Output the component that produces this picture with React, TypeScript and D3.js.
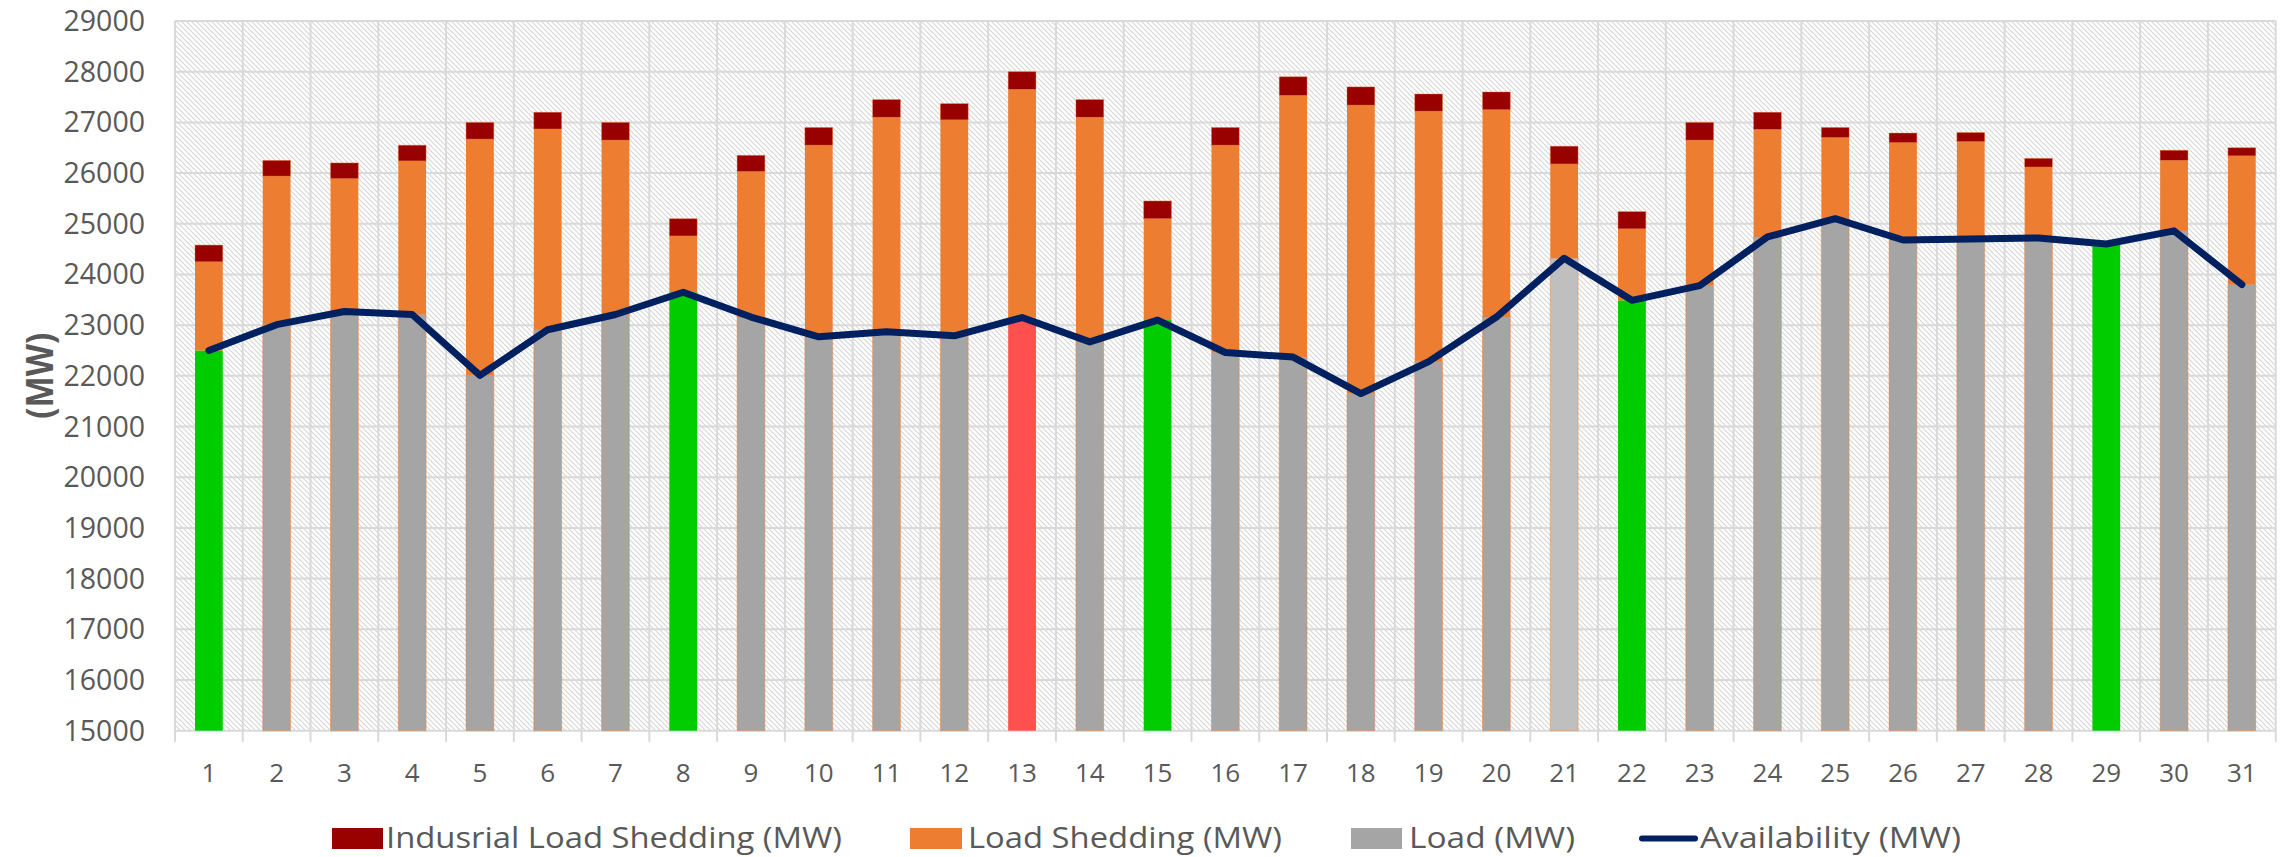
import React from 'react';
import * as d3 from 'd3';

const days = ['1','2','3','4','5','6','7','8','9','10','11','12','13','14','15','16','17','18','19','20','21','22','23','24','25','26','27','28','29','30','31'];

const loadMW = [22500, 23010, 23270, 23210, 22010, 22910, 23210, 23650, 23160, 22770, 22870, 22790, 23150, 22670, 23100, 22460, 22370, 21650, 22280, 23160, 24320, 23490, 23780, 24740, 25100, 24680, 24700, 24720, 24600, 24860, 23800];

const loadSheddingMW = [1750, 2930, 2620, 3030, 4660, 3960, 3440, 1110, 2870, 3780, 4230, 4260, 4500, 4430, 2000, 4090, 5160, 5690, 4940, 4090, 1860, 1410, 2870, 2120, 1600, 1920, 1920, 1400, 0, 1390, 2540];

const industrialSheddingMW = [330, 310, 310, 310, 330, 330, 350, 340, 320, 350, 350, 320, 350, 350, 350, 350, 370, 360, 340, 350, 350, 340, 350, 340, 200, 190, 180, 170, 0, 200, 160];

const availabilityMW = [22500, 23010, 23270, 23210, 22010, 22910, 23210, 23650, 23160, 22770, 22870, 22790, 23150, 22670, 23100, 22460, 22370, 21650, 22280, 23160, 24320, 23490, 23780, 24740, 25100, 24680, 24700, 24720, 24600, 24860, 23800];

const yTicks = [15000, 16000, 17000, 18000, 19000, 20000, 21000, 22000, 23000, 24000, 25000, 26000, 27000, 28000, 29000];

const greenDays = ['1', '8', '15', '22', '29'];
const redDays = ['13'];
const lightDays = ['21'];

const legendItems = [
  { label: 'Indusrial Load Shedding (MW)', kind: 'box', color: '#990000' },
  { label: 'Load Shedding (MW)', kind: 'box', color: '#ED7D31' },
  { label: 'Load (MW)', kind: 'box', color: '#A5A5A5' },
  { label: 'Availability (MW)', kind: 'line', color: '#002060' },
];

const W = 2285;
const H = 857;
const PL = 175;
const PR = 2275.7;
const PT = 21;
const PB = 730.7;
const FONT = '"Open Sans", "Noto Sans", sans-serif';
const TXT = '#595959';
const GRID = '#D9D9D9';

export default function App() {
  const x = d3.scaleBand<string>().domain(days).range([PL, PR]).padding(0);
  const y = d3.scaleLinear().domain([15000, 29000]).range([PB, PT]);
  const barW = x.bandwidth() * 0.41;

  const table = days.map((d, i) => ({
    day: d,
    load: loadMW[i] - 15000,
    ls: loadSheddingMW[i],
    ind: industrialSheddingMW[i],
  }));
  const stack = d3.stack<any>().keys(['load', 'ls', 'ind']);
  const series = stack(table);

  const loadColor = (d: string) => {
    if (greenDays.includes(d)) return '#00CC00';
    if (redDays.includes(d)) return '#FF5050';
    if (lightDays.includes(d)) return '#BFBFBF';
    return '#A5A5A5';
  };
  const segColor: Record<string, string> = { ls: '#ED7D31', ind: '#990000' };

  const line = d3
    .line<number>()
    .x((_, i) => (x(days[i]) as number) + x.bandwidth() / 2)
    .y((v) => y(v));

  const bounds = [...days.map((d) => x(d) as number), PR];

  // legend layout (positions in px)
  const legendLayout = [
    { bx: 332, bw: 51, tx: 386, tw: 456 },
    { bx: 910, bw: 52, tx: 968, tw: 314 },
    { bx: 1351, bw: 51, tx: 1409, tw: 166 },
    { bx: 1640, bw: 57, tx: 1700, tw: 261 },
  ];

  return (
    <svg
      width={W}
      height={H}
      style={{ position: 'absolute', left: 0, top: 0, display: 'block', background: '#fff' }}
    >
      <defs>
        <pattern id="hatch" patternUnits="userSpaceOnUse" width={5} height={5}>
          <rect width={5} height={5} fill="#ffffff" />
          <path d="M0,0 L5,5 M-1,4 L1,6 M4,-1 L6,1" stroke="#D6D6D6" strokeWidth={1.1} />
        </pattern>
      </defs>

      {/* plot background */}
      <rect x={PL} y={PT} width={PR - PL} height={PB - PT} fill="url(#hatch)" />

      {/* horizontal grid */}
      {yTicks.map((t) => (
        <line key={'h' + t} x1={PL} x2={PR} y1={y(t)} y2={y(t)} stroke={GRID} strokeWidth={2} />
      ))}
      {/* vertical grid + ticks */}
      {bounds.map((bx, i) => (
        <line key={'v' + i} x1={bx} x2={bx} y1={PT} y2={PB + 11} stroke={GRID} strokeWidth={2} />
      ))}

      {/* bars */}
      {series.map((s) =>
        s.map((seg, i) => {
          const d = days[i];
          const cx = (x(d) as number) + x.bandwidth() / 2;
          const y0 = y(seg[0] + 15000);
          const y1 = y(seg[1] + 15000);
          const h = y0 - y1;
          if (h <= 0) return null;
          const fill = s.key === 'load' ? loadColor(d) : segColor[s.key];
          const isGray = s.key === 'load' && (fill === '#A5A5A5' || fill === '#BFBFBF');
          return (
            <rect
              key={s.key + d}
              x={cx - barW / 2}
              y={y1}
              width={barW}
              height={h}
              fill={fill}
              stroke={isGray ? 'rgba(237,125,49,0.45)' : s.key === 'ind' ? 'rgba(237,125,49,0.5)' : 'none'}
              strokeWidth={isGray ? 1 : 0.8}
            />
          );
        })
      )}

      {/* availability line */}
      <path
        d={line(availabilityMW) || ''}
        fill="none"
        stroke="#002060"
        strokeWidth={7}
        strokeLinejoin="round"
        strokeLinecap="round"
      />

      {/* y axis labels */}
      {yTicks.map((t) => (
        <text
          key={'yl' + t}
          x={145}
          y={y(t) + 10}
          textAnchor="end"
          fontFamily={FONT}
          fontSize={28.5}
          fill={TXT}
        >
          {t}
        </text>
      ))}

      {/* x axis labels */}
      {days.map((d) => (
        <text
          key={'xl' + d}
          x={(x(d) as number) + x.bandwidth() / 2}
          y={782}
          textAnchor="middle"
          fontFamily={FONT}
          fontSize={26}
          fill={TXT}
        >
          {d}
        </text>
      ))}

      {/* y axis title */}
      <text
        transform={`translate(53, ${(PT + PB) / 2}) rotate(-90)`}
        textAnchor="middle"
        fontFamily={FONT}
        fontWeight="bold"
        fontSize={37}
        fill={TXT}
        textLength={86}
        lengthAdjust="spacingAndGlyphs"
      >
        (MW)
      </text>

      {/* legend */}
      {legendItems.map((it, i) => {
        const L = legendLayout[i];
        return (
          <g key={'lg' + i}>
            {it.kind === 'box' ? (
              <rect x={L.bx} y={828} width={L.bw} height={21} fill={it.color} />
            ) : (
              <line
                x1={L.bx + 2}
                x2={L.bx + L.bw - 2}
                y1={838.5}
                y2={838.5}
                stroke={it.color}
                strokeWidth={6}
                strokeLinecap="round"
              />
            )}
            <text
              x={L.tx}
              y={848}
              fontFamily={FONT}
              fontSize={30}
              fill={TXT}
              textLength={L.tw}
              lengthAdjust="spacingAndGlyphs"
            >
              {it.label}
            </text>
          </g>
        );
      })}
    </svg>
  );
}
